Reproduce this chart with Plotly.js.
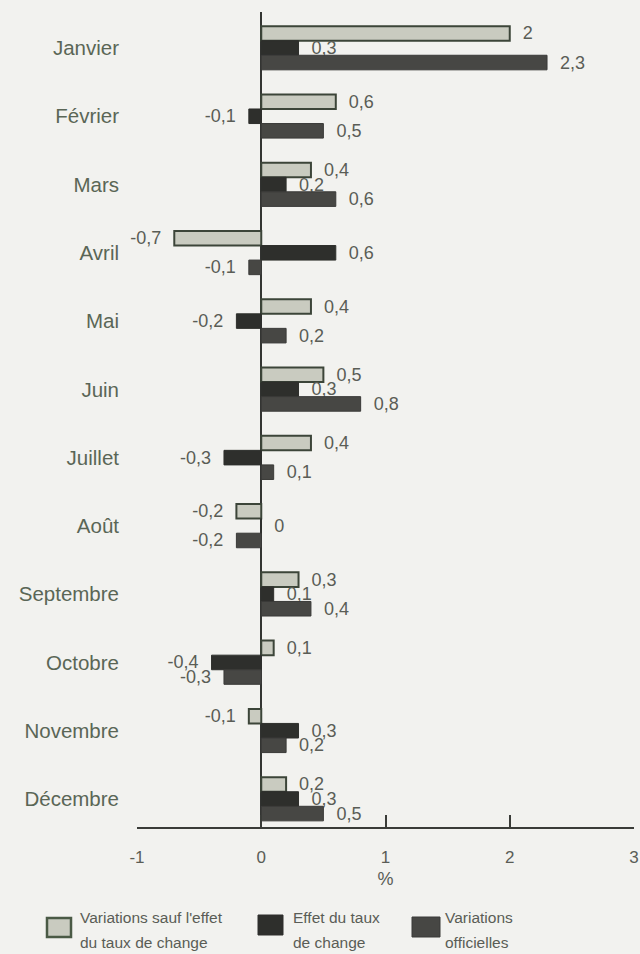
<!DOCTYPE html>
<html>
<head>
<meta charset="utf-8">
<script src="https://cdn.plot.ly/plotly-3.0.1.min.js"></script>
<style>
  html, body { margin: 0; padding: 0; background: #f2f2ef; }
  #chart { width: 640px; height: 954px; }
</style>
</head>
<body>
<div id="chart"></div>
<script>
// ---- Data ----
const months = ['Janvier', 'Février', 'Mars', 'Avril', 'Mai', 'Juin', 'Juillet', 'Août', 'Septembre', 'Octobre', 'Novembre', 'Décembre'];
const horsEffetChange = [2, 0.6, 0.4, -0.7, 0.4, 0.5, 0.4, -0.2, 0.3, 0.1, -0.1, 0.2];
const effetChange = [0.3, -0.1, 0.2, 0.6, -0.2, 0.3, -0.3, 0, 0.1, -0.4, 0.3, 0.3];
const variationsOfficielles = [2.3, 0.5, 0.6, -0.1, 0.2, 0.8, 0.1, -0.2, 0.4, -0.3, 0.2, 0.5];
const xTickVals = [-1, 0, 1, 2, 3];
const xTickText = ['-1', '0', '1', '2', '3'];
const seriesNames = ["Variations sauf l'effet du taux de change", 'Effet du taux de change', 'Variations officielles'];
const legendLines = [["Variations sauf l'effet", 'du taux de change'], ['Effet du taux', 'de change'], ['Variations', 'officielles']];

// ---- Helpers ----
const NB = '\u00a0\u00a0';
function labels(arr) {
  return arr.map(v => {
    const s = String(v).replace('.', ',');
    return v < 0 ? s + NB : NB + s;
  });
}

const W = 640, H = 954;
const M = { l: 137, r: 6, t: 12, b: 127 };
const plotW = W - M.l - M.r, plotH = H - M.t - M.b;
const px = x => (x - M.l) / plotW;
const py = y => (H - M.b - y) / plotH;

const labelFont = { family: 'Liberation Sans, Arial, sans-serif', size: 18, color: '#5a5d56' };

const colors = ['#c9cbc0', '#2e2f2c', '#474744'];
const lineColors = ['#3c4539', '#2e2f2c', '#3a3a38'];
const series = [horsEffetChange, effetChange, variationsOfficielles];

const traces = series.map((vals, i) => ({
  type: 'bar',
  orientation: 'h',
  name: seriesNames[i],
  y: months,
  x: vals,
  text: labels(vals),
  textposition: 'outside',
  textfont: labelFont,
  constraintext: 'none',
  cliponaxis: false,
  marker: { color: colors[i], line: { color: lineColors[i], width: i === 0 ? 2 : 1 } },
  hoverinfo: 'x+y',
  showlegend: false
}));

// ---- Custom legend (swatches + text) ----
const swatches = [
  { x0: 47, x1: 71, y0: 918, y1: 937 },
  { x0: 258, x1: 283, y0: 915, y1: 935 },
  { x0: 412, x1: 440, y0: 917, y1: 937 }
];
const textX = [78, 291, 443];
const shapes = swatches.map((s, i) => ({
  type: 'rect', xref: 'paper', yref: 'paper',
  x0: px(s.x0), x1: px(s.x1), y0: py(s.y1), y1: py(s.y0),
  fillcolor: colors[i],
  line: { color: i === 0 ? '#4a5a45' : lineColors[i], width: i === 0 ? 2.5 : 1 }
}));
const annotations = [];
legendLines.forEach((lines, i) => {
  lines.forEach((t, j) => {
    annotations.push({
      xref: 'paper', yref: 'paper',
      x: px(textX[i]), y: py(917 + j * 25),
      xanchor: 'left', yanchor: 'middle',
      text: t, showarrow: false,
      font: { family: 'Liberation Sans, Arial, sans-serif', size: 15.5, color: '#5a5d56' }
    });
  });
});

const layout = {
  width: W, height: H,
  margin: M,
  paper_bgcolor: '#f2f2ef',
  plot_bgcolor: '#f2f2ef',
  barmode: 'group',
  bargap: 0.36,
  bargroupgap: 0,
  showlegend: false,
  font: { family: 'Liberation Sans, Arial, sans-serif', color: '#5a5d56' },
  xaxis: {
    range: [-1, 3],
    tickvals: xTickVals,
    ticktext: xTickText,
    showgrid: false,
    zeroline: true,
    zerolinecolor: '#333532',
    zerolinewidth: 2,
    showline: true,
    linecolor: '#3a3c38',
    linewidth: 2,
    ticks: 'inside',
    ticklen: 12,
    tickwidth: 2,
    tickcolor: '#3a3c38',
    ticklabelstandoff: 14,
    tickfont: { family: 'Liberation Sans, Arial, sans-serif', size: 17, color: '#5a5d56' },
    title: { text: '%', font: { family: 'Liberation Sans, Arial, sans-serif', size: 18, color: '#5a5d56' }, standoff: 6 },
    fixedrange: true
  },
  yaxis: {
    type: 'category',
    range: [11.41, -0.527],
    showgrid: false,
    zeroline: false,
    showline: false,
    ticks: '',
    ticklabelstandoff: 17,
    tickfont: { family: 'Liberation Sans, Arial, sans-serif', size: 20.5, color: '#5a6656' },
    fixedrange: true
  },
  shapes: shapes,
  annotations: annotations
};

Plotly.newPlot('chart', traces, layout, { displayModeBar: false, staticPlot: true });
</script>
</body>
</html>
